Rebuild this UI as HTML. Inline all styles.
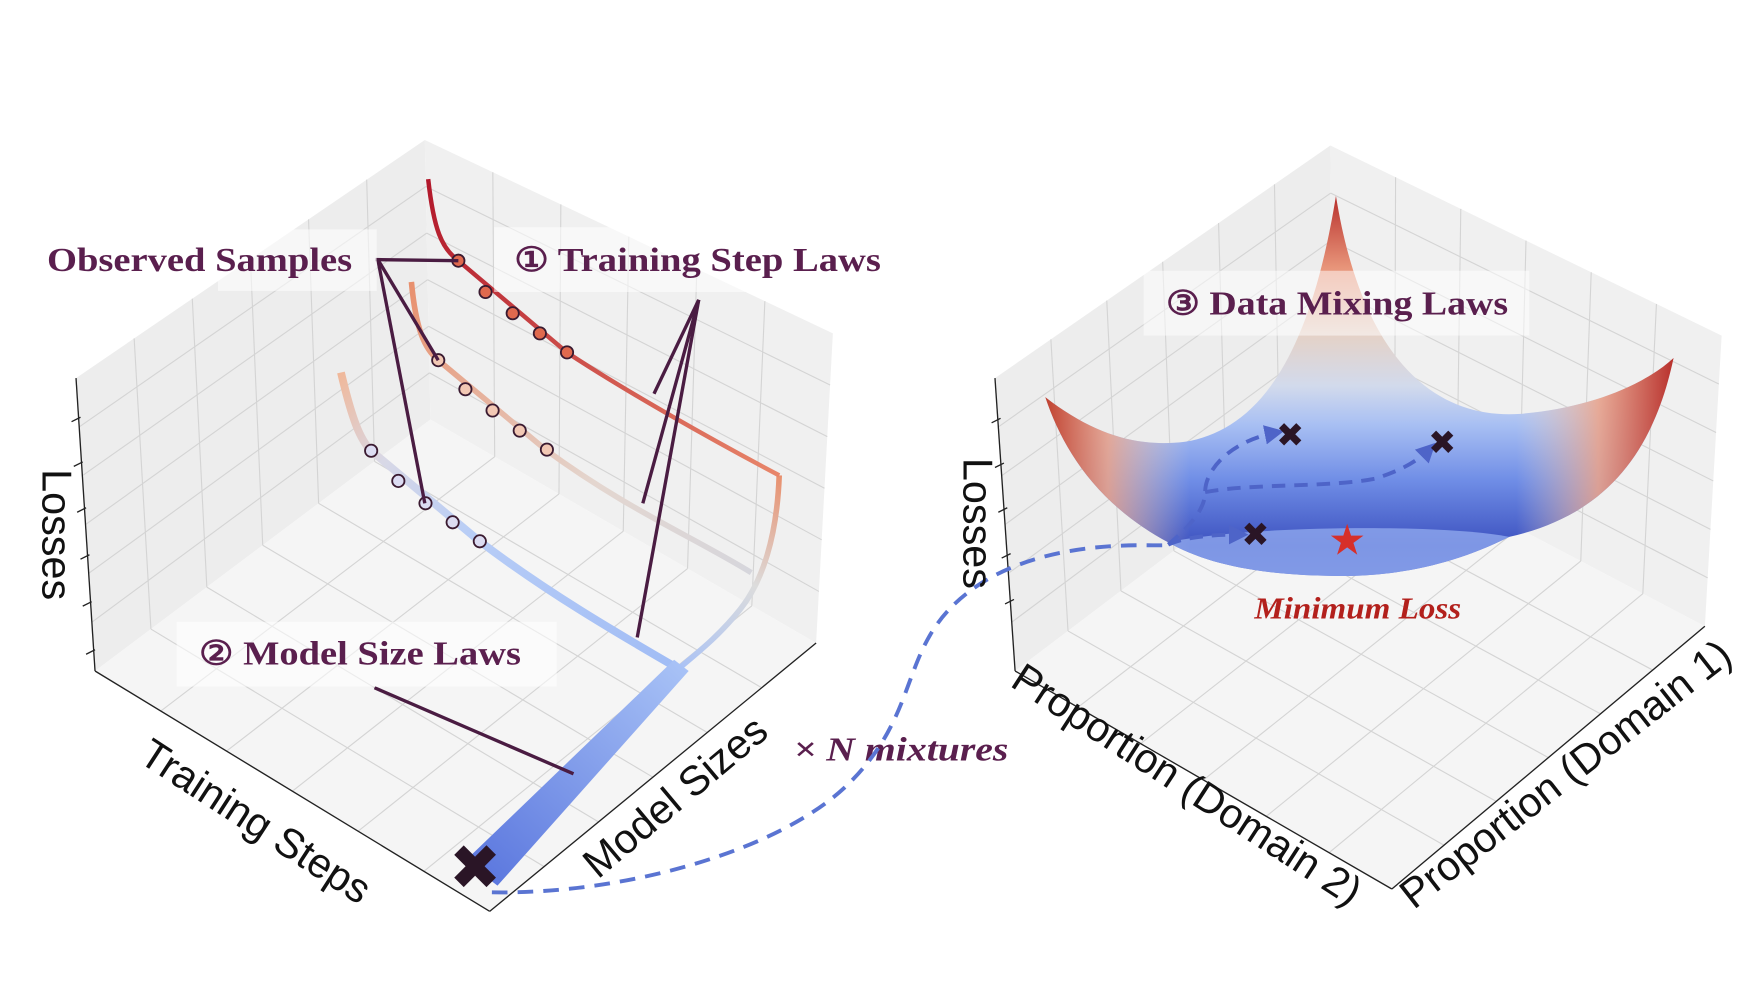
<!DOCTYPE html>
<html><head><meta charset="utf-8"><style>
html,body{margin:0;padding:0;background:#fff;}
svg{display:block;}
.lbl{font-family:"Liberation Serif",serif;font-weight:bold;fill:#5a1f4e;font-size:30px;}
.ax{font-family:"Liberation Sans",sans-serif;font-size:37px;fill:#111;}
</style></head><body>
<svg id="chart" width="1744" height="982" viewBox="0 0 1560 878" xmlns="http://www.w3.org/2000/svg">
<defs>
<linearGradient id="gTop" gradientUnits="userSpaceOnUse" x1="383" y1="160" x2="697" y2="425"><stop offset="0" stop-color="#b2182b"/><stop offset="1" stop-color="#e8866a"/></linearGradient>
<linearGradient id="gSize" gradientUnits="userSpaceOnUse" x1="697" y1="425" x2="607" y2="598"><stop offset="0" stop-color="#e8906e"/><stop offset="0.5" stop-color="#dcdcdc"/><stop offset="1" stop-color="#aac2f5"/></linearGradient>
<linearGradient id="gMid" gradientUnits="userSpaceOnUse" x1="368" y1="252" x2="672" y2="512"><stop offset="0" stop-color="#e8906e"/><stop offset="0.6" stop-color="#e4d6cf"/><stop offset="1" stop-color="#d6d6dc"/></linearGradient>
<linearGradient id="gBot" gradientUnits="userSpaceOnUse" x1="305" y1="333" x2="607" y2="598"><stop offset="0" stop-color="#f0b89a"/><stop offset="0.2" stop-color="#d8d8e6"/><stop offset="0.45" stop-color="#b8cdf6"/><stop offset="1" stop-color="#a0bcf5"/></linearGradient>
<linearGradient id="gBand" gradientUnits="userSpaceOnUse" x1="610" y1="595" x2="430" y2="790"><stop offset="0" stop-color="#a8c2f6"/><stop offset="1" stop-color="#5a76de"/></linearGradient>
<linearGradient id="gBowlV" gradientUnits="userSpaceOnUse" x1="0" y1="175" x2="0" y2="515">
  <stop offset="0" stop-color="#b8302c"/>
  <stop offset="0.19" stop-color="#e8957a"/>
  <stop offset="0.37" stop-color="#e4d2c8"/>
  <stop offset="0.5" stop-color="#d2daec"/>
  <stop offset="0.6" stop-color="#a9c0f3"/>
  <stop offset="0.75" stop-color="#6f8de6"/>
  <stop offset="0.92" stop-color="#3d52c0"/>
  <stop offset="1" stop-color="#4a62cc"/>
</linearGradient>
<linearGradient id="gBowlH" gradientUnits="userSpaceOnUse" x1="935" y1="0" x2="1497" y2="0">
  <stop offset="0" stop-color="#c0402f" stop-opacity="1"/>
  <stop offset="0.1" stop-color="#eea488" stop-opacity="0.85"/>
  <stop offset="0.23" stop-color="#e4d2c8" stop-opacity="0"/>
  <stop offset="0.75" stop-color="#e4d2c8" stop-opacity="0"/>
  <stop offset="0.88" stop-color="#eea488" stop-opacity="0.85"/>
  <stop offset="1" stop-color="#b8302c" stop-opacity="1"/>
</linearGradient>
<marker id="arr" viewBox="0 0 10 10" refX="5" refY="5" markerWidth="5" markerHeight="5" orient="auto"><path d="M0,0L10,5L0,10z" fill="#4e64c8"/></marker>
</defs>
<g id="leftBox">
  <polygon points="68,338 380,125 385,375 85,600" fill="#ededed"/>
  <polygon points="380,125 745,298 730,575 385,375" fill="#f0f0f0"/>
  <polygon points="85,600 385,375 730,575 438,815" fill="#f5f5f5"/>
  <g id="leftGrid" stroke="#d4d4d4" stroke-width="1" fill="none"></g>
  <line x1="68" y1="338" x2="85" y2="600" stroke="#222" stroke-width="1.2"/>
  <line x1="85" y1="600" x2="438" y2="815" stroke="#222" stroke-width="1.2"/>
  <line x1="438" y1="815" x2="730" y2="575" stroke="#222" stroke-width="1.2"/>
  <g stroke="#222" stroke-width="1.2">
    <line x1="64" y1="377" x2="72" y2="373"/><line x1="66" y1="417" x2="74" y2="413"/><line x1="69" y1="458" x2="77" y2="454"/><line x1="72" y1="500" x2="80" y2="496"/><line x1="74" y1="542" x2="82" y2="538"/><line x1="77" y1="585" x2="85" y2="581"/>
  </g>
</g>
<g id="rightBox">
  <polygon points="890,338 1190,130 1192,385 908,600" fill="#ededed"/>
  <polygon points="1190,130 1540,300 1525,560 1192,385" fill="#f0f0f0"/>
  <polygon points="908,600 1192,385 1525,560 1245,795" fill="#f5f5f5"/>
  <g id="rightGrid" stroke="#d4d4d4" stroke-width="1" fill="none"></g>
  <line x1="890" y1="338" x2="908" y2="600" stroke="#222" stroke-width="1.2"/>
  <line x1="908" y1="600" x2="1245" y2="795" stroke="#222" stroke-width="1.2"/>
  <line x1="1245" y1="795" x2="1525" y2="560" stroke="#222" stroke-width="1.2"/>
  <g stroke="#222" stroke-width="1.2">
    <line x1="887" y1="378" x2="895" y2="374"/><line x1="890" y1="418" x2="898" y2="414"/><line x1="893" y1="458" x2="901" y2="454"/><line x1="896" y1="499" x2="904" y2="495"/><line x1="899" y1="540" x2="907" y2="536"/>
  </g>
</g>

<path d="M697,425 C695,480 682,520 662,545 C642,570 622,585 607,598" stroke="url(#gSize)" stroke-width="5" fill="none"/>
<path d="M383,160 C388,205 395,222 410,233 L507,315 C560,350 640,395 697,425" stroke="url(#gTop)" stroke-width="4" fill="none"/>
<path d="M368,252 C372,295 380,312 392,322 L488,402 C560,455 620,480 672,512" stroke="url(#gMid)" stroke-width="5" fill="none"/>
<path d="M305,333 C315,375 322,393 332,403 L429,484 C490,530 550,565 607,598" stroke="url(#gBot)" stroke-width="7" fill="none"/>
<polygon points="603,590 616,600 445,792 416,770" fill="url(#gBand)"/>
<g id="dots"></g>

<g stroke="#4a1c42" stroke-width="3" fill="none">
  <line x1="336" y1="232" x2="410" y2="233"/>
  <line x1="338" y1="232" x2="392" y2="322"/>
  <line x1="338" y1="232" x2="380" y2="450"/>
  <line x1="625" y1="268" x2="585" y2="352"/>
  <line x1="625" y1="268" x2="575" y2="450"/>
  <line x1="625" y1="268" x2="570" y2="570"/>
  <line x1="335" y1="615" x2="513" y2="692"/>
</g>
<rect x="195" y="205" width="142" height="55" fill="#fff" opacity="0.55"/>
<text class="lbl" x="42" y="242" textLength="273" lengthAdjust="spacingAndGlyphs">Observed Samples</text>
<rect x="442" y="203" width="345" height="58" fill="#fff" opacity="0.55"/>
<text class="lbl" x="460" y="242" textLength="328" lengthAdjust="spacingAndGlyphs">① Training Step Laws</text>
<rect x="158" y="556" width="340" height="58" fill="#fff" opacity="0.55"/>
<text class="lbl" x="178" y="594" textLength="288" lengthAdjust="spacingAndGlyphs">② Model Size Laws</text>
<text x="425" y="795" text-anchor="middle" font-family="DejaVu Sans,sans-serif" font-size="56" fill="#2a1526" font-weight="bold">✖</text>

<text class="ax" transform="translate(38,478) rotate(90)" text-anchor="middle">Losses</text>
<text class="ax" transform="translate(222,745) rotate(33)" text-anchor="middle">Training Steps</text>
<text class="ax" transform="translate(612,722) rotate(-40)" text-anchor="middle">Model Sizes</text>

<text x="710" y="680" textLength="192" lengthAdjust="spacingAndGlyphs" font-family="Liberation Serif,serif" font-style="italic" font-weight="bold" font-size="30" fill="#5a1f4e">× N mixtures</text>
<path d="M440,798 C560,800 700,760 760,700 C830,630 800,570 880,520 C950,478 1040,490 1045,487" stroke="#5a74d2" stroke-width="3.5" stroke-dasharray="14,9" fill="none"/>

<g>
  <path id="bowl" d="M935,355 C980,390 1020,400 1060,395 C1120,385 1170,330 1195,175 C1220,330 1290,375 1360,370 C1420,365 1470,345 1497,320 C1480,400 1440,460 1350,480 C1300,505 1250,515 1200,515 C1130,515 1080,505 1045,485 C980,450 950,400 935,355 Z" fill="url(#gBowlV)"/>
  <path d="M935,355 C980,390 1020,400 1060,395 C1120,385 1170,330 1195,175 C1220,330 1290,375 1360,370 C1420,365 1470,345 1497,320 C1480,400 1440,460 1350,480 C1300,505 1250,515 1200,515 C1130,515 1080,505 1045,485 C980,450 950,400 935,355 Z" fill="url(#gBowlH)"/>
  <path d="M1045,485 C1110,470 1290,468 1350,480 C1300,505 1250,515 1200,515 C1130,515 1080,505 1045,485Z" fill="#8fa8ee" opacity="0.8"/>
</g>
<g stroke="#4e64c8" stroke-width="3.5" stroke-dasharray="12,8" fill="none">
  <path d="M1045,487 C1065,470 1078,455 1078,440 C1078,420 1100,395 1140,387" marker-end="url(#arr)"/>
  <path d="M1078,440 C1120,432 1190,436 1230,428 C1255,420 1268,412 1278,402" marker-end="url(#arr)"/>
  <path d="M1045,487 C1060,480 1085,478 1108,478" marker-end="url(#arr)"/>
</g>
<g font-family="DejaVu Sans,sans-serif" font-size="30" fill="#2a1526" text-anchor="middle" font-weight="bold">
  <text x="1154" y="399">✖</text><text x="1290" y="406">✖</text><text x="1123" y="488">✖</text>
</g>
<text x="1205" y="496" text-anchor="middle" font-family="DejaVu Sans,sans-serif" font-size="38" fill="#d62f2a">★</text>
<rect x="1023" y="242" width="345" height="58" fill="#fff" opacity="0.5"/>
<text class="lbl" x="1043" y="281" textLength="306" lengthAdjust="spacingAndGlyphs">③ Data Mixing Laws</text>
<text x="1122" y="553" textLength="185" lengthAdjust="spacingAndGlyphs" font-family="Liberation Serif,serif" font-style="italic" font-weight="bold" font-size="27" fill="#b3201c">Minimum Loss</text>
<text class="ax" transform="translate(862,468) rotate(90)" text-anchor="middle">Losses</text>
<text class="ax" transform="translate(1055,712) rotate(33)" text-anchor="middle">Proportion (Domain 2)</text>
<text class="ax" transform="translate(1408,702) rotate(-38)" text-anchor="middle">Proportion (Domain 1)</text>
</svg>
<script>
const steps = [1, 2, 3, 4, 5];
const modelSizes = [0, 1, 2];
const lossesLarge = [1.67, 1.57, 1.56, 1.56, 1.57];
const lossesMedium = [1.18, 1.10, 1.09, 1.09, 1.10];
const lossesSmall = [0.77, 0.68, 0.66, 0.67, 0.68];
const ns = 'http://www.w3.org/2000/svg';
function px(s, m) { return 410 + 24.3 * (s - 1) + 3 * m - 21 * m * m; }
function py(s, m, L) { return 400 + 18 * (s - 1) + 40 * m - 100 * L; }
const fills = ['#e0694e', '#f2c8b4', '#dcdcf2'];
const series = [lossesLarge, lossesMedium, lossesSmall];
const g = document.getElementById('dots');
modelSizes.forEach(function (m) {
  steps.forEach(function (s, i) {
    const c = document.createElementNS(ns, 'circle');
    c.setAttribute('cx', px(s, m));
    c.setAttribute('cy', py(s, m, series[m][i]));
    c.setAttribute('r', 5.5);
    c.setAttribute('fill', fills[m]);
    c.setAttribute('stroke', '#3a1a30');
    c.setAttribute('stroke-width', 1.6);
    
    
    g.appendChild(c);
  });
});
function lerp(a, b, t) { return [a[0] + (b[0] - a[0]) * t, a[1] + (b[1] - a[1]) * t]; }
function grid(id, quads, n) {
  const gg = document.getElementById(id);
  quads.forEach(function (q) {
    for (let k = 1; k < n; k++) {
      const t = k / n;
      [[lerp(q[0], q[1], t), lerp(q[3], q[2], t)], [lerp(q[0], q[3], t), lerp(q[1], q[2], t)]].forEach(function (p) {
        const l = document.createElementNS(ns, 'line');
        l.setAttribute('x1', p[0][0]); l.setAttribute('y1', p[0][1]);
        l.setAttribute('x2', p[1][0]); l.setAttribute('y2', p[1][1]);
        gg.appendChild(l);
      });
    }
  });
}
grid('leftGrid', [[[68,338],[380,125],[385,375],[85,600]], [[380,125],[745,298],[730,575],[385,375]], [[85,600],[385,375],[730,575],[438,815]]], 6);
grid('rightGrid', [[[890,338],[1190,130],[1192,385],[908,600]], [[1190,130],[1540,300],[1525,560],[1192,385]], [[908,600],[1192,385],[1525,560],[1245,795]]], 6);
</script>
</body></html>
